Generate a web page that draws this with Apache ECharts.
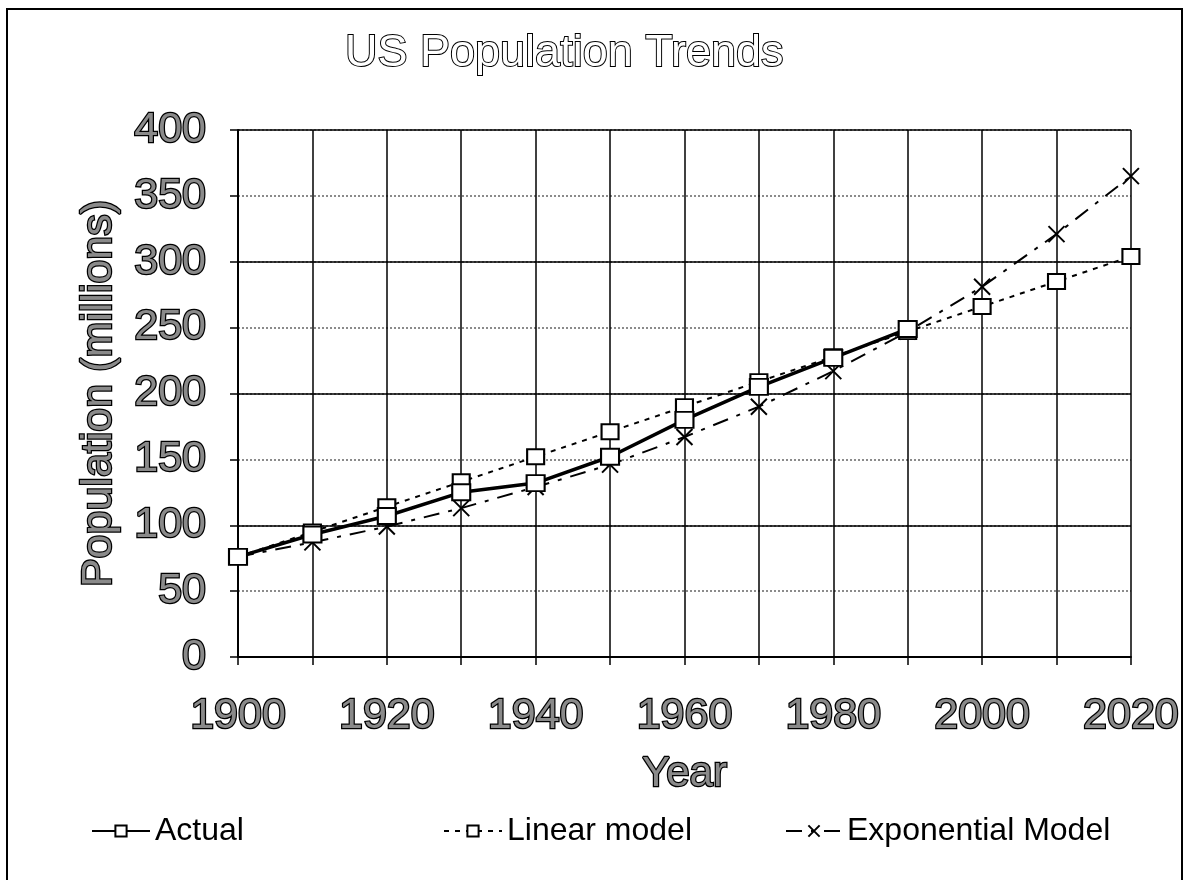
<!DOCTYPE html>
<html>
<head>
<meta charset="utf-8">
<script src="https://cdn.jsdelivr.net/npm/echarts@6/dist/echarts.min.js"></script>
<style>
html,body{margin:0;padding:0;background:#fff;}
#c{width:1183px;height:880px;}
</style>
</head>
<body>
<div id="c"></div>
<script>
var actualYears = [1900,1910,1920,1930,1940,1950,1960,1970,1980,1990];
var actualValues = [76,93,107,125,132,152,180,205,227,249];
var modelYears = [1900,1910,1920,1930,1940,1950,1960,1970,1980,1990,2000,2010,2020];
var linearValues = [76,95,114,133,152,171,190,209,228,247,266,285,304];
var expValues = [76,87,99,113,129,146,167,190,217,247,281,321,365];
var yTicks = [0,50,100,150,200,250,300,350,400];
var xTickLabels = [1900,1920,1940,1960,1980,2000,2020];

function pairs(xs, ys){ return xs.map(function(x,i){ return [x, ys[i]]; }); }

var FONT = 'Liberation Sans, Arial, sans-serif';
var chart = echarts.init(document.getElementById('c'));
var crossPath = 'path://M0,0L10,10M10,0L0,10';
var outlined = {color: '#8a8a8a', textBorderColor: '#000', textBorderWidth: 2.5};

chart.setOption({
  backgroundColor: '#fff',
  animation: false,
  title: {
    text: 'US Population Trends',
    left: 340,
    top: 26,
    textStyle: {fontFamily: FONT, fontSize: 45, fontWeight: 'normal', color: '#fff', textBorderColor: '#000', textBorderWidth: 2}
  },
  graphic: [{
    type: 'rect', shape: {x: 7, y: 9, width: 1175, height: 900},
    style: {fill: 'none', stroke: '#000', lineWidth: 2}, silent: true, z: -1
  }],
  grid: {left: 238, right: 49, top: 130, bottom: 223},
  legend: [
    {data: ['Actual'], left: 86, top: 810, itemWidth: 58, itemHeight: 14,
     textStyle: {fontFamily: FONT, fontSize: 32, color: '#000'}},
    {data: ['Linear model'], left: 438, top: 810, itemWidth: 58, itemHeight: 14,
     textStyle: {fontFamily: FONT, fontSize: 32, color: '#000'}},
    {data: ['Exponential Model'], left: 780, top: 810, itemWidth: 56, itemHeight: 14,
     textStyle: {fontFamily: FONT, fontSize: 32, color: '#000'}}
  ],
  xAxis: {
    type: 'value', min: 1900, max: 2020, interval: 10,
    name: 'Year', nameLocation: 'middle', nameGap: 96,
    nameTextStyle: Object.assign({fontFamily: FONT, fontSize: 42}, outlined),
    axisLine: {lineStyle: {color: '#000', width: 2}},
    axisTick: {show: true, length: 8, lineStyle: {color: '#000', width: 1.5}},
    axisLabel: Object.assign({
      margin: 38, fontFamily: FONT, fontSize: 43,
      formatter: function(v){ return xTickLabels.indexOf(v) >= 0 ? String(v) : ''; }
    }, outlined),
    splitLine: {show: true, lineStyle: {color: '#000', width: 1.5}}
  },
  yAxis: [{
    type: 'value', min: 0, max: 400, interval: 50,
    name: 'Population (millions)', nameLocation: 'middle', nameGap: 114,
    nameTextStyle: Object.assign({fontFamily: FONT, fontSize: 43}, outlined),
    axisLine: {show: true, lineStyle: {color: '#000', width: 2}},
    axisTick: {show: true, length: 8, lineStyle: {color: '#000', width: 1.5}},
    axisLabel: Object.assign({
      margin: 32, fontFamily: FONT, fontSize: 43,
      formatter: function(v){ return yTicks.indexOf(v) >= 0 ? String(v) : ''; }
    }, outlined),
    splitLine: {show: true, lineStyle: {color: '#666', width: 1.5, type: [2,2]}}
  }, {
    type: 'value', min: 0, max: 400, interval: 100, position: 'left',
    axisLine: {show: false}, axisTick: {show: false}, axisLabel: {show: false},
    splitLine: {show: true, lineStyle: {color: '#000', width: 1.5}}
  }],
  series: [
    {
      name: 'Linear model', type: 'line', data: pairs(modelYears, linearValues),
      symbol: 'rect', symbolSize: [17, 15],
      itemStyle: {color: '#fff', borderColor: '#000', borderWidth: 2},
      lineStyle: {color: '#000', width: 2, type: [5,6]}, z: 3
    },
    {
      name: 'Exponential Model', type: 'line', data: pairs(modelYears, expValues),
      symbol: crossPath, symbolSize: 16,
      itemStyle: {color: 'none', borderColor: '#000', borderWidth: 2},
      lineStyle: {color: '#000', width: 2, type: [16,9,4,9]}, z: 2
    },
    {
      name: 'Actual', type: 'line', data: pairs(actualYears, actualValues),
      symbol: 'rect', symbolSize: [18, 16],
      itemStyle: {color: '#fff', borderColor: '#000', borderWidth: 2},
      lineStyle: {color: '#000', width: 3.5}, z: 4
    }
  ]
});
</script>
</body>
</html>
